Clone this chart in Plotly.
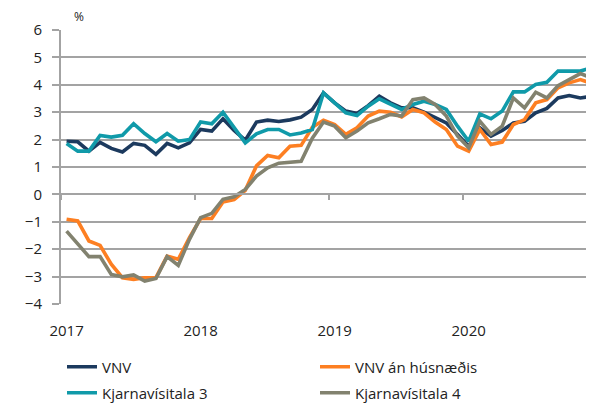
import plotly.graph_objects as go

years = ["2017", "2018", "2019", "2020"]
months = list(range(48))  # Jan 2017 .. Dec 2020 (month index)

vnv = [1.94, 1.92, 1.58, 1.90, 1.68, 1.55, 1.86, 1.79, 1.46, 1.86, 1.70, 1.88,
       2.37, 2.31, 2.76, 2.33, 1.98, 2.64, 2.71, 2.66, 2.72, 2.82, 3.10, 3.70,
       3.34, 3.04, 2.95, 3.24, 3.58, 3.34, 3.16, 3.16, 3.00, 2.79, 2.61, 2.19,
       1.76, 2.43, 2.13, 2.33, 2.61, 2.67, 2.98, 3.14, 3.52, 3.61, 3.52, 3.58]

vnv_an_husn = [-0.91, -0.97, -1.70, -1.86, -2.55, -3.04, -3.10, -3.04, -3.04, -2.25, -2.37, -1.58,
               -0.88, -0.88, -0.28, -0.19, 0.15, 1.04, 1.42, 1.34, 1.76, 1.79, 2.45, 2.71,
               2.55, 2.19, 2.43, 2.86, 3.04, 3.00, 2.83, 3.10, 2.98, 2.64, 2.37, 1.76,
               1.58, 2.37, 1.82, 1.91, 2.55, 2.73, 3.34, 3.46, 3.89, 4.07, 4.19, 4.05]

kjarna3 = [1.86, 1.58, 1.58, 2.15, 2.09, 2.16, 2.58, 2.22, 1.92, 2.22, 1.94, 2.00,
           2.64, 2.58, 3.00, 2.43, 1.88, 2.21, 2.37, 2.37, 2.17, 2.24, 2.37, 3.70,
           3.34, 2.98, 2.88, 3.22, 3.49, 3.28, 3.10, 3.28, 3.40, 3.28, 3.10, 2.49,
           1.94, 2.94, 2.76, 3.04, 3.74, 3.74, 4.01, 4.09, 4.50, 4.50, 4.50, 4.62]

kjarna4 = [-1.34, -1.82, -2.27, -2.27, -2.92, -3.01, -2.94, -3.16, -3.07, -2.27, -2.59, -1.64,
           -0.85, -0.69, -0.18, -0.09, 0.18, 0.67, 0.97, 1.14, 1.16, 1.21, 2.05, 2.64,
           2.49, 2.07, 2.31, 2.61, 2.76, 2.92, 2.86, 3.46, 3.52, 3.28, 2.86, 2.13,
           1.70, 2.67, 2.19, 2.49, 3.52, 3.16, 3.73, 3.52, 3.97, 4.19, 4.41, 4.25]

series = [
    ("VNV", vnv, "#1c3a5e", "legend"),
    ("VNV án húsnæðis", vnv_an_husn, "#fd7f22", "legend"),
    ("Kjarnavísitala 3", kjarna3, "#109aa9", "legend2"),
    ("Kjarnavísitala 4", kjarna4, "#82826f", "legend2"),
]

FONT = "Open Sans"
GRID = "#a3a3a3"
PLOT_W, PLOT_H = 533, 274
OFF = 8  # default page body margin

fig = go.Figure()
for name, vals, col, lg in series:
    fig.add_trace(go.Scatter(x=months, y=vals, name=name, mode="lines", legend=lg,
                             line=dict(color=col, width=3.6)))
# helper trace to activate the zero-crossing axis
fig.add_trace(go.Scatter(x=[], y=[], xaxis="x2", showlegend=False, hoverinfo="skip"))

xr = [-0.5, 47.22]
year_pos = [12 * i for i in range(len(years))]
boundaries = [12 * i - 0.5 for i in range(len(years))]

leg_common = dict(orientation="h", xanchor="left", yanchor="middle",
                  entrywidth=208, entrywidthmode="pixels",
                  font=dict(family=FONT, size=15, color="#222222"),
                  bgcolor="rgba(0,0,0,0)")

fig.update_layout(
    width=594 - OFF, height=406 - OFF,
    margin=dict(l=61 - OFF, r=0, t=30 - OFF, b=102, autoexpand=False),
    paper_bgcolor="white", plot_bgcolor="white",
    font=dict(family=FONT, size=15, color="#222222"),
    showlegend=True,
    legend=dict(x=(62 - 61) / PLOT_W, y=-(367 - 304) / PLOT_H, **leg_common),
    legend2=dict(x=(62 - 61) / PLOT_W, y=-(393 - 304) / PLOT_H, **leg_common),
    xaxis=dict(range=xr, tickmode="array", tickvals=year_pos, ticktext=years,
               showgrid=False, zeroline=False, showline=False, ticks="",
               tickfont=dict(size=15), ticklabelstandoff=16),
    xaxis2=dict(range=xr, overlaying="x", anchor="free", position=0.4,
                tickmode="array", tickvals=boundaries, ticks="outside", ticklen=5,
                tickwidth=1.5, tickcolor=GRID, showticklabels=False,
                showgrid=False, zeroline=False, showline=True, linecolor=GRID,
                linewidth=2),
    yaxis=dict(range=[-4, 6], dtick=1, tick0=0, showgrid=True, gridcolor=GRID,
               gridwidth=2, zeroline=False, showline=True, linecolor=GRID,
               linewidth=2, ticks="outside", ticklen=7, tickcolor=GRID,
               tickwidth=2, tickfont=dict(size=15), ticklabelstandoff=7),
)

fig.add_annotation(text="%", xref="paper", yref="paper", x=(79 - 61) / PLOT_W,
                   y=(304 - 17) / PLOT_H, showarrow=False,
                   font=dict(family=FONT, size=12, color="#222222"),
                   xanchor="center", yanchor="middle")

fig.write_html("out.html")
